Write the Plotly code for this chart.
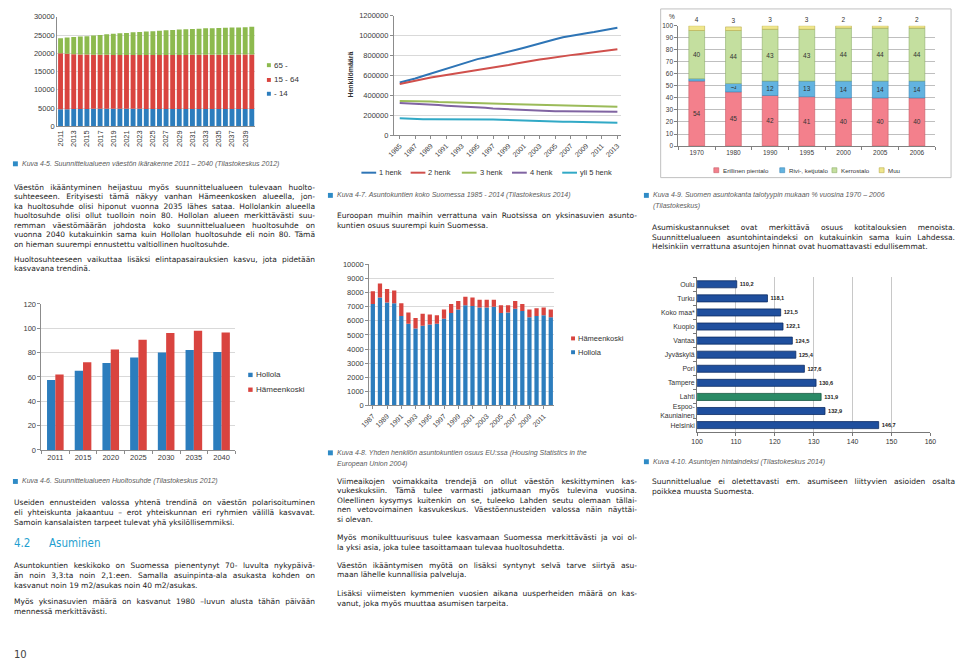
import json
import plotly.graph_objects as go

W, H = 960, 665


def fx(x):
    return x / W


def fy(y):
    return 1 - y / H


def dom_x(a, b):
    return [a / W, b / W]


def dom_y(top, bottom):
    return [1 - bottom / H, 1 - top / H]


# ------------------------------------------------------------------ data
# Kuva 4-5: age structure 2011-2040
age_years = [2011, 2012, 2013, 2014, 2015, 2016, 2017, 2018, 2019, 2020,
             2021, 2022, 2023, 2024, 2025, 2026, 2027, 2028, 2029, 2030,
             2031, 2032, 2033, 2034, 2035, 2036, 2037, 2038, 2039, 2040]
age_ticks = [2011, 2013, 2015, 2017, 2019, 2021, 2023, 2025, 2027, 2029,
             2031, 2033, 2035, 2037, 2039]
age_0_14 = [4700, 4700, 4720, 4740, 4760, 4780, 4800, 4800, 4800, 4800,
            4790, 4780, 4780, 4770, 4760, 4750, 4750, 4740, 4740, 4730,
            4730, 4730, 4730, 4740, 4740, 4750, 4750, 4760, 4760, 4770]
age_15_64 = [15300, 15150, 15030, 14960, 14890, 14820, 14800, 14780, 14760, 14760,
             14780, 14790, 14790, 14800, 14810, 14820, 14820, 14830, 14830, 14840,
             14850, 14860, 14870, 14870, 14880, 14880, 14890, 14900, 14910, 14920]
age_65 = [4100, 4450, 4700, 4900, 5050, 5300, 5400, 5620, 5790, 5940,
          6030, 6180, 6280, 6380, 6480, 6630, 6730, 6830, 6930, 7030,
          7070, 7160, 7250, 7290, 7330, 7370, 7410, 7440, 7480, 7560]
age_names = ["- 14", "15 - 64", "65 -"]

# Kuva 4-7: household sizes 1985-2013
hh_years = [1985, 1986, 1987, 1988, 1989, 1990, 1991, 1992, 1993, 1994,
            1995, 1996, 1997, 1998, 1999, 2000, 2001, 2002, 2003, 2004,
            2005, 2006, 2007, 2008, 2009, 2010, 2011, 2012, 2013]
hh_ticks = [1985, 1987, 1989, 1991, 1993, 1995, 1997, 1999, 2001, 2003,
            2005, 2007, 2009, 2011, 2013]
hh_1 = [530000, 548000, 570000, 595000, 620000, 643000, 665000, 690000, 715000, 740000,
        765000, 782000, 800000, 820000, 840000, 860000, 880000, 903000, 925000, 945000,
        965000, 985000, 1000000, 1013000, 1025000, 1037000, 1050000, 1065000, 1080000]
hh_2 = [515000, 532000, 550000, 566000, 580000, 593000, 605000, 616000, 625000, 637000,
        650000, 662000, 675000, 690000, 705000, 720000, 735000, 748000, 760000, 772000,
        785000, 795000, 805000, 815000, 825000, 835000, 845000, 855000, 865000]
hh_3 = [345000, 345000, 343000, 342000, 340000, 335000, 332000, 328000, 325000, 324000,
        322000, 321000, 320000, 317000, 314000, 312000, 310000, 306000, 302000, 299000,
        297000, 294000, 291000, 291000, 290000, 290000, 290000, 288000, 285000]
hh_4 = [325000, 322000, 318000, 314000, 310000, 303000, 297000, 293000, 291000, 288000,
        283000, 275000, 268000, 264000, 260000, 257000, 254000, 250000, 246000, 243000,
        242000, 242000, 242000, 240000, 236000, 236000, 236000, 236000, 236000]
hh_5 = [170000, 166000, 160000, 160000, 160000, 160000, 161000, 162000, 163000, 161000,
        160000, 159000, 157000, 155000, 152000, 148000, 145000, 143000, 141000, 139000,
        137000, 136000, 135000, 134000, 133000, 131000, 129000, 127000, 126000]
hh_names = ["1 henk", "2 henk", "3 henk", "4 henk", "yli 5 henk"]

# Kuva 4-9: housing stock by building type (%)
stock_years = ["1970", "1980", "1990", "1995", "2000", "2005", "2006"]
stock_erillinen = [54, 45, 42, 41, 40, 40, 40]
stock_rivi = [2, 7, 12, 13, 14, 14, 14]
stock_kerros = [40, 44, 43, 43, 44, 44, 44]
stock_muu = [4, 3, 3, 3, 2, 2, 2]
stock_names = ["Erillinen pientalo", "Rivi-, ketjutalo", "Kerrostalo", "Muu"]

# Kuva 4-6: dependency ratio
dep_years = ["2011", "2015", "2020", "2025", "2030", "2035", "2040"]
dep_hollola = [57.5, 65, 71.5, 76, 80, 82, 80.5]
dep_hameenkoski = [62, 72, 82.5, 90.5, 96, 98, 96.5]

# population series 1987-2012
pop_years = [1987, 1988, 1989, 1990, 1991, 1992, 1993, 1994, 1995, 1996,
             1997, 1998, 1999, 2000, 2001, 2002, 2003, 2004, 2005, 2006,
             2007, 2008, 2009, 2010, 2011, 2012]
pop_ticks = [1987, 1989, 1991, 1993, 1995, 1997, 1999, 2001, 2003, 2005,
             2007, 2009, 2011]
pop_hollola = [7200, 7650, 7300, 7250, 6350, 5800, 5450, 5650, 5750, 5800,
               6150, 6550, 6800, 7100, 7050, 6950, 6950, 7000, 6550, 6600,
               6850, 6700, 6250, 6350, 6400, 6250]
pop_hameenkoski = [900, 1000, 950, 900, 900, 800, 750, 850, 700, 600,
                   650, 650, 600, 600, 600, 550, 550, 500, 550, 500,
                   550, 500, 550, 550, 550, 550]

# Kuva 4-10: price index
price_cities = ["Oulu", "Turku", "Koko maa*", "Kuopio", "Vantaa", "Jyväskylä",
                "Pori", "Tampere", "Lahti", "Espoo-<br>Kauniainen", "Helsinki"]
price_index = [110.2, 118.1, 121.5, 122.1, 124.5, 125.4, 127.6, 130.6, 131.9, 132.9, 146.7]

# ------------------------------------------------------------------ styles
BODY = "DejaVu Sans"
CHART = "Liberation Sans"
TXT = "#222222"
CAP = "#5a5a5a"
SQ = "#2f8bc6"
GRID = "#d9d9d9"
AXL = "#8c8c8c"

BLUE = "#2c7dbd"
RED = "#d9443f"
GREEN = "#8dba4e"
LINE_COLS = ["#2e75b6", "#d0504c", "#9bbb59", "#8064a2", "#31a9c6"]

fig = go.Figure()

# ---------------- chart 1 (stacked age bars)
young_mid = [a + b for a, b in zip(age_0_14, age_15_64)]
for vals, base, col in [(age_0_14, [0] * len(age_0_14), BLUE),
                        (age_15_64, age_0_14, RED),
                        (age_65, young_mid, GREEN)]:
    fig.add_bar(x=age_years, y=vals, base=base, offsetgroup="c1", width=0.74,
                marker=dict(color=col, line=dict(width=0)), xaxis="x", yaxis="y",
                showlegend=False, hoverinfo="skip")

# ---------------- chart 2 (lines)
for vals, col in zip([hh_1, hh_2, hh_3, hh_4, hh_5], LINE_COLS):
    fig.add_scatter(x=hh_years, y=vals, mode="lines", line=dict(color=col, width=2),
                    xaxis="x2", yaxis="y2", showlegend=False, hoverinfo="skip")

# ---------------- chart 3 (stacked % bars)
S_COLS = ["#f3808c", "#62b3e0", "#c4df9f", "#efe68c"]
S_LINE = ["#c85a66", "#3a87b8", "#8fae6a", "#b8ac4e"]
b1 = stock_erillinen
b2 = [a + b for a, b in zip(b1, stock_rivi)]
b3 = [a + b for a, b in zip(b2, stock_kerros)]
stock_series = [(stock_erillinen, [0] * 7, ["inside"] * 7),
                (stock_rivi, b1, ["outside"] + ["inside"] * 6),
                (stock_kerros, b2, ["inside"] * 7),
                (stock_muu, b3, ["outside"] * 7)]
for i, (vals, base, pos) in enumerate(stock_series):
    fig.add_bar(x=stock_years, y=vals, base=base, offsetgroup="c3", width=0.43,
                text=[str(v) for v in vals], textposition=pos, constraintext="none",
                insidetextanchor="middle", cliponaxis=False,
                textfont=dict(size=6.5, color="#333", family=CHART),
                marker=dict(color=S_COLS[i], line=dict(color=S_LINE[i], width=0.6)),
                xaxis="x3", yaxis="y3", showlegend=False, hoverinfo="skip")

# ---------------- chart 4 (grouped bars)
fig.add_bar(x=dep_years, y=dep_hollola, offset=-0.3, width=0.3,
            marker=dict(color=BLUE, line=dict(width=0)), xaxis="x4", yaxis="y4",
            showlegend=False, hoverinfo="skip")
fig.add_bar(x=dep_years, y=dep_hameenkoski, offset=0.0, width=0.3,
            marker=dict(color=RED, line=dict(width=0)), xaxis="x4", yaxis="y4",
            showlegend=False, hoverinfo="skip")

# ---------------- chart 5 (stacked bars)
fig.add_bar(x=pop_years, y=pop_hollola, base=[0] * len(pop_hollola), offsetgroup="c5",
            width=0.6, marker=dict(color=BLUE, line=dict(width=0)),
            xaxis="x5", yaxis="y5", showlegend=False, hoverinfo="skip")
fig.add_bar(x=pop_years, y=pop_hameenkoski, base=pop_hollola, offsetgroup="c5",
            width=0.6, marker=dict(color=RED, line=dict(width=0)),
            xaxis="x5", yaxis="y5", showlegend=False, hoverinfo="skip")

# ---------------- chart 6 (horizontal bars)
p_cols = ["#2a8a66" if c == "Lahti" else "#1f4f9e" for c in price_cities]
p_line = ["#14573f" if c == "Lahti" else "#0d2c63" for c in price_cities]
fig.add_bar(y=price_cities, x=price_index, orientation="h", width=0.5,
            marker=dict(color=p_cols, line=dict(color=p_line, width=0.8)),
            texttemplate="<b>%{x:.1f}</b>", textposition="outside", cliponaxis=False,
            textfont=dict(size=7.2, color="#222", family=CHART),
            xaxis="x6", yaxis="y6", showlegend=False, hoverinfo="skip")

# ------------------------------------------------------------------ axes
tf = dict(family=CHART, size=7.5, color="#3a3a3a")
tf2 = dict(family=CHART, size=7, color="#3a3a3a")
tf_small = dict(family=CHART, size=6.5, color="#3a3a3a")
tf6 = dict(family=CHART, size=6.9, color="#333")

layout = dict(
    width=W, height=H, margin=dict(l=0, r=0, t=0, b=0),
    paper_bgcolor="white", plot_bgcolor="white",
    barmode="group", separators=", ", showlegend=False,
    # chart 1
    xaxis=dict(domain=dom_x(49, 250), anchor="y", type="category",
               tickmode="array", tickvals=age_ticks, tickangle=-90, tickfont=tf,
               showgrid=False, showline=True, linecolor=AXL, ticks="", zeroline=False),
    yaxis=dict(domain=dom_y(13, 124), anchor="x", range=[0, 30000], dtick=5000,
               tickformat="d", tickfont=tf, showgrid=True, gridcolor=GRID,
               showline=True, linecolor=AXL, ticks="", zeroline=False),
    # chart 2
    xaxis2=dict(domain=dom_x(391, 622), anchor="y2", range=[1984.25, 2013.5],
                tickmode="array", tickvals=hh_ticks, tickangle=-45, tickfont=tf2,
                showgrid=False, showline=True, linecolor=AXL, ticks="outside",
                ticklen=3, tickcolor=AXL, zeroline=False),
    yaxis2=dict(domain=dom_y(12, 133), anchor="x2", range=[0, 1200000], dtick=200000,
                tickformat="d", tickfont=tf, showgrid=True, gridcolor=GRID,
                showline=True, linecolor=AXL, ticks="outside", ticklen=3,
                tickcolor=AXL, zeroline=False),
    # chart 3
    xaxis3=dict(domain=dom_x(680, 941), anchor="y3", type="category",
                tickson="boundaries", ticks="outside", ticklen=3, tickcolor="#808080",
                tickfont=tf_small, showgrid=False, showline=True, linecolor="#808080",
                zeroline=False),
    yaxis3=dict(domain=dom_y(22, 144), anchor="x3", range=[0, 100], dtick=10,
                tickfont=tf_small, showgrid=True, gridcolor="#bfbfbf",
                showline=True, linecolor="#808080", ticks="outside", ticklen=3,
                tickcolor="#808080", zeroline=False),
    # chart 4
    xaxis4=dict(domain=dom_x(33, 230), anchor="y4", type="category",
                tickson="boundaries", ticks="outside", ticklen=3, tickcolor=AXL,
                tickfont=tf, showgrid=False, showline=True, linecolor=AXL, zeroline=False),
    yaxis4=dict(domain=dom_y(304, 452), anchor="x4", range=[0, 120], dtick=20,
                tickfont=tf, showgrid=True, gridcolor=GRID, showline=True,
                linecolor=AXL, ticks="outside", ticklen=3, tickcolor=AXL, zeroline=False),
    # chart 5
    xaxis5=dict(domain=dom_x(366, 554), anchor="y5", range=[1986.5, 2012.5],
                tickmode="array", tickvals=pop_ticks, tickangle=-45, tickfont=tf2,
                showgrid=False, showline=True, linecolor=AXL, ticks="outside",
                ticklen=3, tickcolor=AXL, zeroline=False),
    yaxis5=dict(domain=dom_y(264, 407), anchor="x5", range=[0, 10000], dtick=1000,
                tickformat="d", tickfont=tf, showgrid=True, gridcolor=GRID,
                showline=True, linecolor=AXL, ticks="outside", ticklen=3,
                tickcolor=AXL, zeroline=False),
    # chart 6
    xaxis6=dict(domain=dom_x(699, 936), anchor="y6", range=[100, 160], dtick=10,
                tickfont=tf6, showgrid=True, gridcolor="#c8c8c8",
                showline=True, linecolor="#777", ticks="outside", ticklen=3,
                tickcolor="#777", zeroline=False),
    yaxis6=dict(domain=dom_y(277, 434), anchor="x6", type="category",
                autorange="reversed", tickson="boundaries", ticks="outside",
                ticklen=3, tickcolor="#777", tickfont=tf6, showgrid=False,
                showline=True, linecolor="#777", zeroline=False),
)

ann = []
shapes = []
justify = []   # [line text, target width in px]


def txt(x, y, s, size=7.5, color=TXT, family=BODY, xanchor="left", angle=0):
    ann.append(dict(x=fx(x), y=fy(y), xref="paper", yref="paper", text=s,
                    showarrow=False, xanchor=xanchor, yanchor="middle",
                    textangle=angle, borderpad=0, align="left",
                    font=dict(size=size, color=color, family=family)))


def rect(x0, y0, x1, y1, fill, line=None, lw=0):
    shapes.append(dict(type="rect", xref="paper", yref="paper",
                       x0=fx(x0), x1=fx(x1), y0=fy(y1), y1=fy(y0),
                       fillcolor=fill, line=dict(color=line or fill, width=lw)))


def hline(x0, x1, y, col, w=2):
    shapes.append(dict(type="line", xref="paper", yref="paper",
                       x0=fx(x0), x1=fx(x1), y0=fy(y), y1=fy(y),
                       line=dict(color=col, width=w)))


def caption(x, y, s, sq=True):
    if sq:
        rect(x, y - 2.5, x + 5, y + 2.5, SQ)
    txt(x + 8, y, "<i>" + s + "</i>", size=7, color=CAP, family=CHART)


def para(x, y0, lines, step=9.6, right=None):
    for i, ln in enumerate(lines):
        txt(x, y0 + i * step, ln)
        if right is not None and i < len(lines) - 1:
            justify.append([ln, right - x])


# chart 1 legend
for (name, col, y) in [("65 -", GREEN, 62), ("15 - 64", RED, 77), ("- 14", BLUE, 91)]:
    rect(262, y - 2, 266, y + 2, col)
    txt(268, y, name, size=8, color="#333", family=CHART)

# chart 2 legend and title
for (name, col, x0) in zip(hh_names, LINE_COLS, [358, 408, 460, 511, 562]):
    hline(x0, x0 + 15, 171, col, 2)
    txt(x0 + 17, 171, name, size=7.5, color="#333", family=CHART)
txt(346, 72, "<b>Henkilömäärä</b>", size=7, color="#333", family=CHART,
    xanchor="center", angle=-90)

# chart 3 frame, % label, legend
shapes.append(dict(type="rect", xref="paper", yref="paper", x0=fx(662), x1=fx(957),
                   y0=fy(176), y1=fy(5), line=dict(color="#c0c0c0", width=1),
                   fillcolor="rgba(0,0,0,0)", layer="below"))
txt(674, 13, "%", size=6.5, color="#333", family=CHART, xanchor="center")
for (name, col, lc, x0) in zip(stock_names, S_COLS, S_LINE, [716, 783, 836, 884]):
    rect(x0, 166, x0 + 5, 171, col, lc, 0.6)
    txt(x0 + 8, 168.5, name, size=6.2, color="#333", family=CHART)

# chart 4 legend
for (name, col, y) in [("Hollola", BLUE, 376), ("Hämeenkoski", RED, 391)]:
    rect(243, y - 2.2, 247.5, y + 2.2, col)
    txt(250, y, name, size=8, color="#333", family=CHART)

# chart 5 legend
for (name, col, y) in [("Hämeenkoski", RED, 339), ("Hollola", BLUE, 353)]:
    rect(571, y - 2, 575, y + 2, col)
    txt(577, y, name, size=7.5, color="#333", family=CHART)

# ------------------------------------------------------------------ page text
LR, MR, RR = 305, 632, 955
caption(4, 162, "Kuva 4-5. Suunnittelualueen väestön ikärakenne 2011 – 2040 (Tilastokeskus 2012)")
para(4, 186, [
    "Väestön ikääntyminen heijastuu myös suunnittelualueen tulevaan huolto-",
    "suhteeseen. Erityisesti tämä näkyy vanhan Hämeenkosken alueella, jon-",
    "ka huoltosuhde olisi hiponut vuonna 2035 lähes sataa. Hollolankin alueella",
    "huoltosuhde olisi ollut tuolloin noin 80. Hollolan alueen merkittävästi suu-",
    "remman väestömäärän johdosta koko suunnittelualueen huoltosuhde on",
    "vuonna 2040 kutakuinkin sama kuin Hollolan huoltosuhde eli noin 80. Tämä",
    "on hieman suurempi ennustettu valtiollinen huoltosuhde.",
], right=LR)
para(4, 259, [
    "Huoltosuhteeseen vaikuttaa lisäksi elintapasairauksien kasvu, jota pidetään",
    "kasvavana trendinä.",
], right=LR)
caption(4, 484, "Kuva 4-6. Suunnittelualueen Huoltosuhde (Tilastokeskus 2012)")
para(4, 505, [
    "Useiden ennusteiden valossa yhtenä trendinä on väestön polarisoituminen",
    "eli yhteiskunta jakaantuu – erot yhteiskunnan eri ryhmien välillä kasvavat.",
    "Samoin kansalaisten tarpeet tulevat yhä yksilöllisemmiksi.",
], step=10.5, right=LR)
txt(4, 546, "4.2", size=11.5, color="#1f9fd0", family="DejaVu Sans Condensed")
txt(40, 546, "Asuminen", size=11.5, color="#1f9fd0", family="DejaVu Sans Condensed")
para(4, 569, [
    "Asuntokuntien keskikoko on Suomessa pienentynyt 70- luvulta nykypäivä-",
    "än noin 3,3:ta noin 2,1:een. Samalla asuinpinta-ala asukasta kohden on",
    "kasvanut noin 19 m2/asukas noin 40 m2/asukas.",
], step=10.3, right=LR)
para(4, 606, [
    "Myös yksinasuvien määrä on kasvanut 1980 –luvun alusta tähän päivään",
    "mennessä merkittävästi.",
], step=10.3, right=LR)
txt(4, 659, "10", size=10, color="#444", family=BODY)

caption(324, 194, "Kuva 4-7. Asuntokuntien koko Suomessa 1985 - 2014 (Tilastokeskus 2014)")
para(332, 214, [
    "Euroopan muihin maihin verrattuna vain Ruotsissa on yksinasuvien asunto-",
    "kuntien osuus suurempi kuin Suomessa.",
], step=10.3, right=MR)
caption(324, 455, "Kuva 4-8. Yhden henkilön asuntokuntien osuus EU:ssa (Housing Statistics in the")
caption(324, 466, "European Union 2004)", sq=False)
para(332, 484, [
    "Viimeaikojen voimakkaita trendejä on ollut väestön keskittyminen kas-",
    "vukeskuksiin. Tämä tulee varmasti jatkumaan myös tulevina vuosina.",
    "Oleellinen kysymys kuitenkin on se, tuleeko Lahden seutu olemaan tällai-",
    "nen vetovoimainen kasvukeskus. Väestöennusteiden valossa näin näyttäi-",
    "si olevan.",
], right=MR)
para(332, 541, [
    "Myös monikulttuurisuus tulee kasvamaan Suomessa merkittävästi ja voi ol-",
    "la yksi asia, joka tulee tasoittamaan tulevaa huoltosuhdetta.",
], right=MR)
para(332, 569, [
    "Väestön ikääntymisen myötä on lisäksi syntynyt selvä tarve siirtyä asu-",
    "maan lähelle kunnallisia palveluja.",
], right=MR)
para(332, 598, [
    "Lisäksi viimeisten kymmenien vuosien aikana uusperheiden määrä on kas-",
    "vanut, joka myös muuttaa asumisen tarpeita.",
], right=MR)

caption(645, 194, "Kuva 4-9. Suomen asuntokanta talotyypin mukaan % vuosina 1970 – 2006")
caption(645, 205, "(Tilastokeskus)", sq=False)
para(652, 227, [
    "Asumiskustannukset ovat merkittävä osuus kotitalouksien menoista.",
    "Suunnittelualueen asuntohintaindeksi on kutakuinkin sama kuin Lahdessa.",
    "Helsinkiin verrattuna asuntojen hinnat ovat huomattavasti edullisemmat.",
], right=RR)
caption(645, 464, "Kuva 4-10. Asuntojen hintaindeksi (Tilastokeskus 2014)")
para(652, 484, [
    "Suunnittelualue ei oletettavasti em. asumiseen liittyvien asioiden osalta",
    "poikkea muusta Suomesta.",
], step=10, right=RR)

layout["annotations"] = ann
layout["shapes"] = shapes
fig.update_layout(**layout)

# page setup + justified text lines (word spacing stretched to column width)
post = """
document.body.style.margin='0px';document.body.style.padding='0px';
var J = %s;
var map = {};
J.forEach(function(p){ map[p[0]] = p[1]; });
document.querySelectorAll('text.annotation-text').forEach(function(el){
  var t = el.textContent;
  if (map.hasOwnProperty(t)) {
    var n = (t.match(/ /g) || []).length;
    var w = el.getComputedTextLength();
    if (n > 0 && w < map[t]) {
      el.style.wordSpacing = ((map[t] - w) / n) + 'px';
    }
  }
});
""" % json.dumps(justify, ensure_ascii=False)

fig.write_html("out.html", config={"displayModeBar": False}, post_script=post)
